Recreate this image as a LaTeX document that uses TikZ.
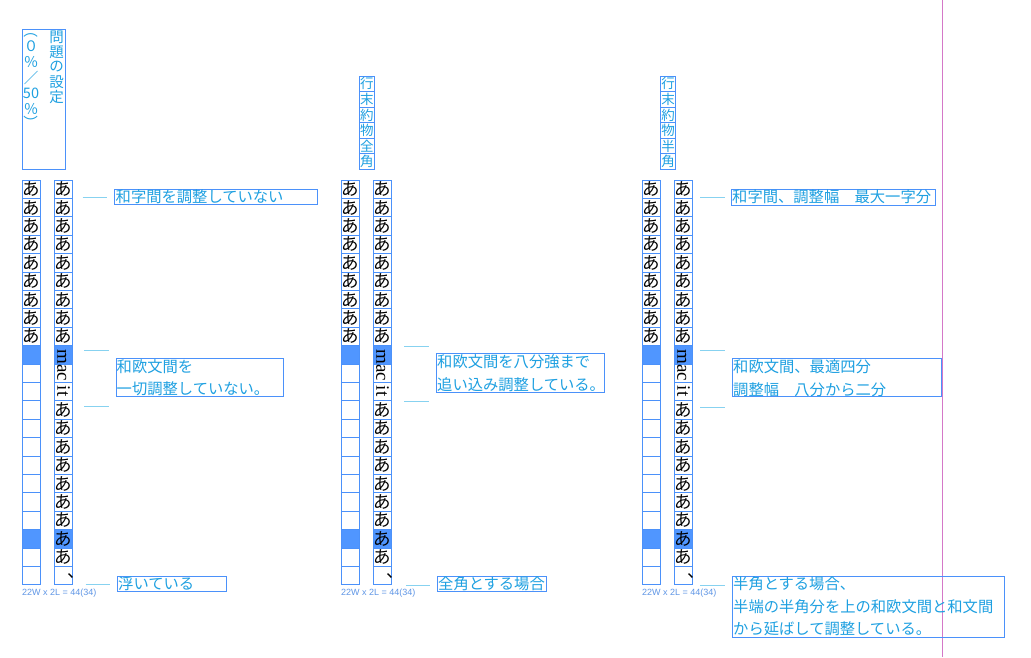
\documentclass[tikz,border=0pt]{standalone}
\usepackage{fontspec}
\newfontfamily\jp{Noto Sans CJK JP}
\newfontfamily\capf{Liberation Sans}
\newfontfamily\serf{Liberation Serif}
\definecolor{gridc}{RGB}{75,145,250}
\definecolor{hlc}{RGB}{80,150,255}
\definecolor{labc}{RGB}{30,160,225}
\definecolor{leadc}{RGB}{135,210,240}
\definecolor{capc}{RGB}{95,150,230}
\definecolor{magc}{RGB}{212,120,200}
\tikzset{
  gl/.style={draw=gridc,line width=0.9pt},
  hl/.style={fill=hlc},
  aa/.style={inner sep=0pt,font=\jp\fontsize{17.5}{17.5}\selectfont,text=black},
  latin/.style={inner sep=0pt,font=\serf\fontsize{19}{19}\selectfont,text=black,rotate=-90},
  hd/.style={inner sep=0pt,font=\jp\fontsize{14.5}{14.5}\selectfont,text=labc},
  hdb/.style={inner sep=0pt,font=\jp\fontsize{13.5}{13.5}\selectfont,text=labc},
  lab/.style={inner sep=0pt,anchor=west,font=\jp\fontsize{15.3}{15.3}\selectfont,text=labc},
  labbox/.style={draw=gridc,line width=0.9pt},
  lead/.style={draw=leadc,line width=1pt},
  capt/.style={inner sep=0pt,anchor=west,font=\capf\fontsize{9}{9}\selectfont,text=capc}
}
\newcommand\gridframe[2]{%
  % #1 = left x, #2 = frame id
  \foreach \i in {9,19} {
    \fill[hl] (#1,180+\i*18.4) rectangle ++(18.5,18.4);
    \fill[hl] (#1+32,180+\i*18.4) rectangle ++(18.5,18.4);
  }
  \foreach \i in {0,...,21} {
    \draw[gl] (#1,180+\i*18.4) rectangle ++(18.5,18.4);
    \draw[gl] (#1+32,180+\i*18.4) rectangle ++(18.5,18.4);
  }
  \foreach \i in {0,...,8} {
    \node[aa,name=#2l\i] at (#1+9.25,180+\i*18.4+9.2) {あ};
    \node[aa,name=#2r\i] at (#1+41.25,180+\i*18.4+9.2) {あ};
  }
  \node[latin,name=#2mac] at (#1+41.5,373) {mac it};
  \foreach \i in {12,...,20} {
    \node[aa,name=#2r\i] at (#1+41.25,180+\i*18.4+9.2) {あ};
  }
  \node[inner sep=0pt,anchor=base west,font=\jp\fontsize{17.5}{17.5}\selectfont,name=#2comma] at (#1+45,577.5) {、};
  \node[capt,name=#2cap] at (#1,593.5) {22W x 2L = 44(34)};
}
\begin{document}
\begin{tikzpicture}[x=1pt,y=-1pt]
\useasboundingbox (0,0) rectangle (1031,657);
\fill[white] (0,0) rectangle (1031,657);

% magenta guide
\draw[magc,line width=1pt] (942,0) -- (942,657);

% ---------- frame 1 ----------
\draw[gl] (22,29.3) rectangle (65.5,169);
\foreach[count=\k from 0] \c in {問,題,の,設,定} {
  \node[hd,name=ha\k] at (56.7,37+15*\k) {\c};
}
\node[hd,rotate=-90,name=hp1] at (31,31) {（};
\node[hd,name=hp2] at (31,46.5) {０};
\node[hd,name=hp3] at (31,62) {％};
\node[hd,name=hp4] at (31,77.5) {／};
\node[hd,name=hp5] at (31,93) {50};
\node[hd,name=hp6] at (31,108.5) {％};
\node[hd,rotate=-90,name=hp7] at (31,123) {）};

\gridframe{22}{A}

\coordinate (a1s) at (82.5,197.5); \coordinate (a1e) at (107,197.5);
\coordinate (a2s) at (84,350.3); \coordinate (a2e) at (109,350.3);
\coordinate (a3s) at (84,406); \coordinate (a3e) at (109,406);
\coordinate (a4s) at (85.5,584.5); \coordinate (a4e) at (110,584.5);
\draw[lead] (a1s) -- (a1e);
\draw[lead] (a2s) -- (a2e);
\draw[lead] (a3s) -- (a3e);
\draw[lead] (a4s) -- (a4e);

\draw[labbox] (114.3,189.3) rectangle (317.3,204.3);
\node[lab,name=la1] at (115.5,197) {和字間を調整していない};
\draw[labbox] (116,358.3) rectangle (283.3,396.7);
\node[lab,name=la2] at (116.5,366.7) {和欧文間を};
\node[lab,name=la3] at (116.5,388.3) {一切調整していない。};
\draw[labbox] (117.3,576.7) rectangle (226.7,591.7);
\node[lab,name=la4] at (118,584) {浮いている};

% ---------- frame 2 ----------
\foreach[count=\k from 0] \c in {行,末,約,物,全,角} {
  \draw[gl] (359.3,76+15.55*\k) rectangle ++(15,15.55);
  \node[hdb,name=hb\k] at (366.8,76+15.55*\k+7.8) {\c};
}
\gridframe{341}{B}

\coordinate (b2s) at (404,346); \coordinate (b2e) at (429,346);
\coordinate (b3s) at (404,401); \coordinate (b3e) at (429,401);
\coordinate (b4s) at (406,585); \coordinate (b4e) at (430,585);
\draw[lead] (b2s) -- (b2e);
\draw[lead] (b3s) -- (b3e);
\draw[lead] (b4s) -- (b4e);

\draw[labbox] (436,353.3) rectangle (604,392.3);
\node[lab,name=lb2] at (437,361.7) {和欧文間を八分強まで};
\node[lab,name=lb3] at (437,385) {追い込み調整している。};
\draw[labbox] (437.3,576.7) rectangle (546.7,591.7);
\node[lab,name=lb4] at (438,584) {全角とする場合};

% ---------- frame 3 ----------
\foreach[count=\k from 0] \c in {行,末,約,物,半,角} {
  \draw[gl] (660.5,76+15.55*\k) rectangle ++(15,15.55);
  \node[hdb,name=hc\k] at (668,76+15.55*\k+7.8) {\c};
}
\gridframe{642}{C}

\coordinate (c1s) at (700,197.5); \coordinate (c1e) at (725,197.5);
\coordinate (c2s) at (700,350); \coordinate (c2e) at (725,350);
\coordinate (c3s) at (700,407); \coordinate (c3e) at (725,407);
\coordinate (c4s) at (700,585); \coordinate (c4e) at (725,585);
\draw[lead] (c1s) -- (c1e);
\draw[lead] (c2s) -- (c2e);
\draw[lead] (c3s) -- (c3e);
\draw[lead] (c4s) -- (c4e);

\draw[labbox] (731,189.3) rectangle (935,205);
\node[lab,name=lc1] at (732,197) {和字間、調整幅　最大一字分};
\draw[labbox] (732,358.3) rectangle (941,396);
\node[lab,name=lc2] at (733,366.7) {和欧文間、最適四分};
\node[lab,name=lc3] at (733,389.3) {調整幅　八分から二分};
\draw[labbox] (732,576.7) rectangle (1004.3,637.3);
\node[lab,name=lc4] at (733,584) {半角とする場合、};
\node[lab,name=lc5] at (733,607) {半端の半角分を上の和欧文間と和文間};
\node[lab,name=lc6] at (733,628.5) {から延ばして調整している。};
\end{tikzpicture}
\end{document}
